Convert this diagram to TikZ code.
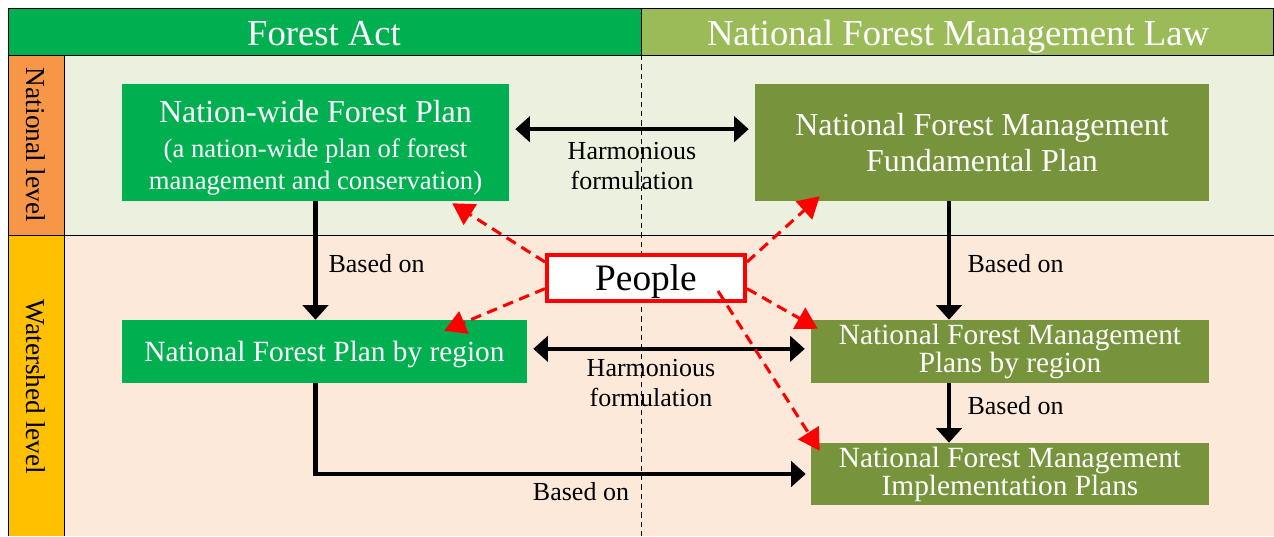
\documentclass[tikz,border=0pt]{standalone}
\usepackage{fontspec}
\setmainfont{Liberation Serif}
\usetikzlibrary{arrows.meta,calc}

\definecolor{actgreen}{HTML}{00B050}
\definecolor{lawgreen}{HTML}{9BBB59}
\definecolor{planolive}{HTML}{77933C}
\definecolor{natbg}{HTML}{EBF1DE}
\definecolor{shedbg}{HTML}{FDE9D9}
\definecolor{natlevel}{HTML}{F79646}
\definecolor{shedlevel}{HTML}{FFC000}

\begin{document}
\begin{tikzpicture}[
    x=0.75pt, y=-0.75pt,
    grid/.style={line width=0.75pt},
    head/.style={text=white, font=\fontsize{27.5}{32}\selectfont},
    levelname/.style={rotate=-90, font=\fontsize{20.5}{24}\selectfont},
    actplan/.style={fill=actgreen, text=white, inner sep=0pt, align=center},
    lawplan/.style={fill=planolive, text=white, inner sep=0pt, align=center},
    basedon/.style={draw, line width=3.4pt, -{Triangle[length=11pt,width=19pt]}},
    harmony/.style={draw, line width=3.4pt, {Triangle[length=11pt,width=19pt]}-{Triangle[length=11pt,width=19pt]},
        shorten <=4.5pt, shorten >=4.5pt},
    voice/.style={draw=red, line width=2.3pt, dash pattern=on 8pt off 5pt, -{Triangle[length=16pt,width=18pt]}},
    lbl/.style={font=\fontsize{19.5}{22.5}\selectfont, align=center, inner sep=1pt}
]
\useasboundingbox (0,0) rectangle (1274,536);

% rows
\fill[natbg] (64,55) rectangle (1274,235);
\fill[shedbg] (64,235) rectangle (1274,536);
\draw[line width=0.75pt, dash pattern=on 4pt off 3pt] (641,55) -- (641,536);

% header and level column
\fill[actgreen] (8,8) rectangle (641,55);
\fill[lawgreen] (641,8) rectangle (1273,55);
\fill[natlevel] (8,55) rectangle (64,235);
\fill[shedlevel] (8,235) rectangle (64,536);
\draw[grid] (8,8) rectangle (1273,55) (641,8) -- (641,55);
\draw[grid] (8,55) -- (8,536) (64,55) -- (64,536) (8,235) -- (1274,235);

\node[head, text depth=0pt] (act) at (324,33) {Forest Act};
\node[head, text depth=0pt] (law) at (958,33) {National Forest Management Law};
\node[levelname] (natl) at (36,145) {National level};
\node[levelname] (shed) at (36,387) {Watershed level};

% plans
\node[actplan, minimum width=290.25pt, minimum height=87.75pt, font=\fontsize{20}{23}\selectfont] (nwfp) at (315.5,142.5)
    {{\fontsize{24}{28}\selectfont\rule{0pt}{25pt}Nation-wide Forest Plan}\\[3pt]
     (a nation-wide plan of forest\\[1pt]
     management and conservation)};
\node[lawplan, minimum width=340.5pt, minimum height=87.75pt, font=\fontsize{24}{26}\selectfont] (nfmfp) at (982,142.5)
    {National Forest Management\\[1pt]Fundamental Plan};
\node[actplan, minimum width=303.75pt, minimum height=47.25pt, text depth=0pt, font=\fontsize{22}{24}\selectfont] (nfpr) at (324.5,351.5)
    {National Forest Plan by region};
\node[lawplan, minimum width=298.5pt, minimum height=47.25pt, font=\fontsize{22}{21}\selectfont] (nfmpr) at (1010,351.5)
    {National Forest Management\\Plans by region};
\node[lawplan, minimum width=298.5pt, minimum height=46.5pt, font=\fontsize{22}{21}\selectfont] (nfmip) at (1010,474)
    {National Forest Management\\Implementation Plans};

\coordinate (spine) at (949,0);
\draw[basedon] (nwfp.south) -- (nwfp.south |- nfpr.north);
\draw[basedon] (nfmfp.south -| spine) -- (nfmpr.north -| spine);
\draw[basedon] (nfmpr.south -| spine) -- (nfmip.north -| spine);
\draw[basedon, shorten >=3.75pt] (nwfp.south |- nfpr.south) |- (nfmip.west);
\draw[harmony] ([yshift=10pt]nwfp.east) -- ([yshift=10pt]nfmfp.west);
\draw[harmony] ([yshift=2pt]nfpr.east) -- ([yshift=2pt]nfmpr.west);

\node[lbl] (harm1) at (632,166) {Harmonious\\formulation};
\node[lbl] (harm2) at (651,383) {Harmonious\\formulation};
\node[lbl, anchor=west] (based1) at (327,264) {Based on};
\node[lbl, anchor=west] (based2) at (966,264) {Based on};
\node[lbl, anchor=west] (based3) at (966,406) {Based on};
\node[lbl] (based4) at (581,492) {Based on};

% people
\node[draw=red, line width=3pt, fill=white, minimum width=148.5pt, minimum height=34.5pt,
    inner sep=0pt, text depth=0pt, font=\fontsize{28}{32}\selectfont] (people) at (646,278) {People};
\draw[voice] (people.171) -- ($(nwfp.south east)+(-57,2)$);
\draw[voice] (people.9) -- ($(nfmfp.south west)+(65,-5)$);
\draw[voice] (people.186) -- ($(nfpr.north east)+(-83,11)$);
\draw[voice] (people.354) -- ($(nfmpr.north west)+(7,9)$);
\draw[voice] ($(people.south east)+(-29,-12)$) -- ($(nfmip.north west)+(9,8)$);
\end{tikzpicture}
\end{document}
